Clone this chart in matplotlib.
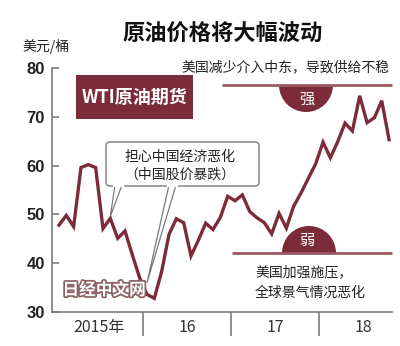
import matplotlib
matplotlib.use("Agg")
import matplotlib.pyplot as plt
import matplotlib.patheffects as pe
from matplotlib.patches import Rectangle, Wedge, FancyBboxPatch, Polygon

plt.rcParams['font.family'] = ['Noto Sans CJK SC', 'DejaVu Sans']

# WTI monthly prices (USD/barrel), Jan 2015 - Oct 2018
prices_2015 = [47.8, 49.8, 47.5, 59.6, 60.2, 59.6, 47.1, 49.2, 45.1, 46.6, 41.7, 37.0]
prices_2016 = [33.6, 32.8, 38.3, 45.9, 49.1, 48.3, 41.5, 44.7, 48.2, 46.9, 49.4, 53.7]
prices_2017 = [52.8, 54.0, 50.6, 49.3, 48.3, 46.0, 50.2, 47.2, 51.7, 54.4, 57.4, 60.4]
prices_2018 = [64.8, 61.6, 64.9, 68.7, 67.1, 74.3, 68.8, 69.8, 73.3, 65.3]
prices = prices_2015 + prices_2016 + prices_2017 + prices_2018
months = list(range(len(prices)))

year_labels = ['2015年', '16', '17', '18']
y_ticks = [30, 40, 50, 60, 70, 80]

MAROON = '#7c2c38'
LINE_MAROON = '#9a5a62'
GRAY = '#7a7a7a'

W, H = 400, 346
fig = plt.figure(figsize=(W / 100, H / 100), dpi=100)

ax = fig.add_axes([52 / W, 1 - 312 / H, 340 / W, 244 / H])
ax.plot(months, prices, color=MAROON, lw=2.4, solid_joinstyle='miter', zorder=3)
ax.set_xlim(-0.95, 45.4)
ax.set_ylim(30, 80)

for s in ['top', 'right']:
    ax.spines[s].set_visible(False)
for s in ['left', 'bottom']:
    ax.spines[s].set_color(GRAY)
    ax.spines[s].set_linewidth(1.2)

ax.set_yticks(y_ticks)
ax.set_yticklabels([str(v) for v in y_ticks], family='Liberation Sans',
                   fontweight='bold', fontsize=12, color='#222222')
ax.tick_params(axis='y', direction='in', length=5, width=1.2, color=GRAY, pad=5)

# year boundaries as long ticks, year names centred between them
ax.set_xticks([11.5, 23.5, 35.5])
ax.set_xticklabels([])
ax.tick_params(axis='x', which='major', direction='out', length=17, width=1.2, color=GRAY)
ax.set_xticks([5.5, 17.5, 29.5, 41.5], minor=True)
ax.set_xticklabels(year_labels, minor=True, fontsize=11.5, color='#333333')
ax.tick_params(axis='x', which='minor', length=0, pad=5)

# overlay in pixel coordinates for the annotations
ov = fig.add_axes([0, 0, 1, 1], zorder=5)
ov.set_xlim(0, W)
ov.set_ylim(H, 0)
ov.axis('off')


def to_px(x, y):
    fx, fy = ax.transData.transform((x, y))
    return ov.transData.inverted().transform((fx, fy))


ov.text(223, 34, '原油价格将大幅波动', fontsize=16, fontweight='bold',
        ha='center', va='center', color='#111111')
ov.text(46, 47, '美元/桶', fontsize=10, ha='center', va='center', color='#222222')

# series label box
ov.add_patch(Rectangle((76, 75), 117, 44, facecolor=MAROON, edgecolor='none'))
ov.text(134.5, 97, 'WTI原油期货', fontsize=13, fontweight='bold', color='white',
        ha='center', va='center')

# upside: "strong" marker
ov.text(181, 67, '美国减少介入中东，导致供给不稳', fontsize=10, ha='left', va='center',
        color='#222222')
ov.plot([222, 392], [85, 85], color=LINE_MAROON, lw=2, solid_capstyle='butt')
ov.add_patch(Wedge((306, 85), 27, 0, 180, facecolor=MAROON, edgecolor='none'))
ov.text(307, 99, '强', fontsize=11, color='white', ha='center', va='center')

# downside: "weak" marker
ov.plot([232, 392], [253, 253], color=LINE_MAROON, lw=2, solid_capstyle='butt')
ov.add_patch(Wedge((309, 253), 27, 180, 360, facecolor=MAROON, edgecolor='none'))
ov.text(307, 240, '弱', fontsize=11, color='white', ha='center', va='center')
ov.text(255, 272, '美国加强施压，', fontsize=10, ha='left', va='center', color='#222222')
ov.text(255, 293, '全球景气情况恶化', fontsize=10, ha='left', va='center', color='#222222')

# callout about China
tip1 = to_px(7, 49.6)
tip2 = to_px(12, 36.0)
ov.add_patch(Polygon([(115, 185), (122, 185), tuple(tip1)], closed=True,
                     facecolor='white', edgecolor=GRAY, lw=0.9, zorder=6))
ov.add_patch(Polygon([(169, 185), (176, 185), tuple(tip2)], closed=True,
                     facecolor='white', edgecolor=GRAY, lw=0.9, zorder=6))
ov.add_patch(FancyBboxPatch((106, 142), 153, 44, boxstyle='round,pad=0,rounding_size=4',
                            facecolor='white', edgecolor=GRAY, lw=1, zorder=7))
ov.plot([114, 123], [186, 186], color='white', lw=1.6, zorder=8)
ov.plot([168, 177], [186, 186], color='white', lw=1.6, zorder=8)
ov.text(180, 157, '担心中国经济恶化', fontsize=10, ha='center', va='center',
        color='#222222', zorder=9)
ov.text(180, 175, '（中国股价暴跌）', fontsize=10, ha='center', va='center',
        color='#222222', zorder=9)

# watermark
wm = ov.text(104, 290, '日经中文网', fontsize=12, fontweight='bold', color='white',
             ha='center', va='center', zorder=4)
wm.set_path_effects([pe.Stroke(linewidth=2.5, foreground='#8c6262'), pe.Normal()])

fig.savefig('out.png', dpi=100)
